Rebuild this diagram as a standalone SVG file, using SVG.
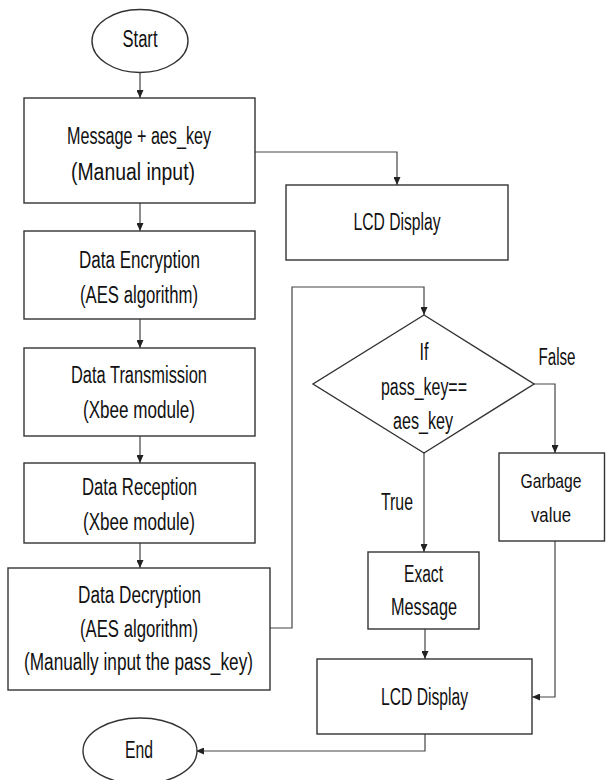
<svg xmlns="http://www.w3.org/2000/svg" width="606" height="780" viewBox="0 0 606 780">
<style>
.b{fill:#fff;stroke:#333;stroke-width:1.4}
.c{fill:none;stroke:#444;stroke-width:1.2}
text{font-family:"Liberation Sans",Arial,sans-serif;font-size:23px;fill:#111;text-anchor:middle}
.s{font-size:21px}
</style>
<defs>
<marker id="a" markerUnits="userSpaceOnUse" markerWidth="8" markerHeight="7" refX="8" refY="3.5" orient="auto">
<path d="M0,0 L8,3.5 L0,7 z" fill="#222"/>
</marker>
</defs>
<rect width="606" height="780" fill="#fff"/>
<g id="connectors">
<path class="c" d="M140,73 V98" marker-end="url(#a)"/>
<path class="c" d="M255,152 H397 V185" marker-end="url(#a)"/>
<path class="c" d="M140,203 V231" marker-end="url(#a)"/>
<path class="c" d="M140,319 V348" marker-end="url(#a)"/>
<path class="c" d="M140,436 V463" marker-end="url(#a)"/>
<path class="c" d="M140,543 V568" marker-end="url(#a)"/>
<path class="c" d="M270,628 H292 V287 H424 V315" marker-end="url(#a)"/>
<path class="c" d="M534,384 H555 V453" marker-end="url(#a)"/>
<path class="c" d="M424,453 V552" marker-end="url(#a)"/>
<path class="c" d="M425,629 V659" marker-end="url(#a)"/>
<path class="c" d="M555,541 V697 H532" marker-end="url(#a)"/>
<path class="c" d="M425,734 V751 H196" marker-end="url(#a)"/>
<text x="557" y="365" textLength="37" lengthAdjust="spacingAndGlyphs">False</text>
<text x="397" y="510" textLength="32" lengthAdjust="spacingAndGlyphs">True</text>
</g>
<g id="start">
<ellipse class="b" cx="140" cy="41" rx="48" ry="31.5"/>
<text x="140" y="47" textLength="35" lengthAdjust="spacingAndGlyphs">Start</text>
</g>
<g id="input">
<rect class="b" x="24" y="98" width="231" height="105"/>
<text x="139" y="144" textLength="144" lengthAdjust="spacingAndGlyphs">Message + aes_key</text>
<text x="133" y="180" textLength="124" lengthAdjust="spacingAndGlyphs">(Manual input)</text>
</g>
<g id="lcd1">
<rect class="b" x="286" y="185" width="222" height="75"/>
<text x="397" y="230" textLength="87" lengthAdjust="spacingAndGlyphs">LCD Display</text>
</g>
<g id="encryption">
<rect class="b" x="24" y="231" width="231" height="88"/>
<text x="139.5" y="268" textLength="121" lengthAdjust="spacingAndGlyphs">Data Encryption</text>
<text x="139" y="303" textLength="118" lengthAdjust="spacingAndGlyphs">(AES algorithm)</text>
</g>
<g id="transmission">
<rect class="b" x="24" y="348" width="231" height="88"/>
<text x="139" y="383" textLength="136" lengthAdjust="spacingAndGlyphs">Data Transmission</text>
<text x="139" y="418" textLength="112" lengthAdjust="spacingAndGlyphs">(Xbee module)</text>
</g>
<g id="reception">
<rect class="b" x="24" y="463" width="231" height="80"/>
<text x="139.5" y="495" textLength="115" lengthAdjust="spacingAndGlyphs">Data Reception</text>
<text x="139" y="530" textLength="112" lengthAdjust="spacingAndGlyphs">(Xbee module)</text>
</g>
<g id="decryption">
<rect class="b" x="8" y="568" width="262" height="122"/>
<text x="139.5" y="603" textLength="123" lengthAdjust="spacingAndGlyphs">Data Decryption</text>
<text x="139" y="637" textLength="118" lengthAdjust="spacingAndGlyphs">(AES algorithm)</text>
<text x="138.5" y="670" textLength="229" lengthAdjust="spacingAndGlyphs">(Manually input the pass_key)</text>
</g>
<g id="decision">
<polygon class="b" points="424,315 534,384 424,453 313,384"/>
<text x="424" y="360" textLength="9" lengthAdjust="spacingAndGlyphs">If</text>
<text x="424" y="395" textLength="86" lengthAdjust="spacingAndGlyphs">pass_key==</text>
<text x="423" y="429" textLength="60" lengthAdjust="spacingAndGlyphs">aes_key</text>
</g>
<g id="garbage">
<rect class="b" x="499" y="453" width="105.5" height="88"/>
<text class="s" x="551" y="488" textLength="61" lengthAdjust="spacingAndGlyphs">Garbage</text>
<text class="s" x="551" y="522" textLength="40" lengthAdjust="spacingAndGlyphs">value</text>
</g>
<g id="exact">
<rect class="b" x="368" y="552" width="111" height="77"/>
<text x="423.5" y="582" textLength="39" lengthAdjust="spacingAndGlyphs">Exact</text>
<text x="424" y="615" textLength="66" lengthAdjust="spacingAndGlyphs">Message</text>
</g>
<g id="lcd2">
<rect class="b" x="317" y="659" width="215" height="75"/>
<text x="424.5" y="705" textLength="87" lengthAdjust="spacingAndGlyphs">LCD Display</text>
</g>
<g id="end">
<ellipse class="b" cx="140" cy="751" rx="57" ry="33"/>
<text x="139" y="758" textLength="28" lengthAdjust="spacingAndGlyphs">End</text>
</g>
</svg>
